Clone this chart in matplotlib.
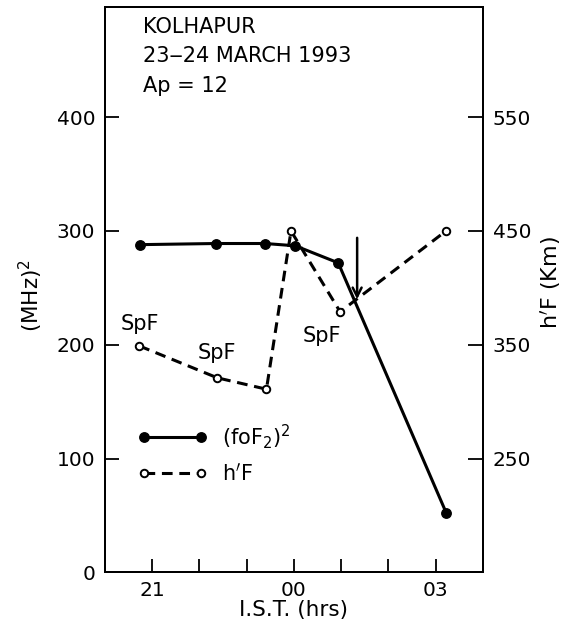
import matplotlib
matplotlib.use('Agg')
import matplotlib.pyplot as plt

# Data (time in hours after midnight of 23 March; 24 = 00 IST on 24 March)
hours_fof2 = [20.74, 22.35, 23.39, 24.03, 24.94, 27.23]
fof2_sq = [288, 289, 289, 287, 272, 52]
hours_hf = [20.73, 22.38, 23.42, 23.94, 24.98, 27.22]
hf_km = [349, 321, 311, 450, 379, 450]

x_ticks = [21, 22, 23, 24, 25, 26, 27]
x_tick_labels = ['21', '', '', '00', '', '', '03']
left_ticks = [0, 100, 200, 300, 400]
right_ticks = [250, 350, 450, 550]

spf_hours = [20.74, 22.38, 24.60]
spf_level = [218, 193, 208]
arrow_hour = 25.34
arrow_from = 294
arrow_to = 240

title_lines = ['KOLHAPUR', '23\u201224 MARCH 1993', 'Ap = 12']
title_levels = [479, 454, 427]

fs = 14.5
fig = plt.figure(figsize=(5.64, 6.30), dpi=100)
ax = fig.add_axes([0.186, 0.0913, 0.670, 0.898])
ax2 = ax.twinx()

ax.set_xlim(20, 28)
ax.set_ylim(0, 497)
ax2.set_ylim(150, 647)

l1, = ax.plot(hours_fof2, fof2_sq, color='black', lw=2.2, marker='o',
              markersize=6.8, markerfacecolor='black', zorder=4)
l2, = ax2.plot(hours_hf, hf_km, color='black', lw=2.2, linestyle=(0, (3.5, 2.2)),
               marker='o', markersize=5.4, markerfacecolor='white',
               markeredgecolor='black', markeredgewidth=1.4, zorder=3)

ax.set_xticks(x_ticks)
ax.set_xticklabels(x_tick_labels, fontsize=fs)
ax.set_yticks(left_ticks)
ax.set_yticklabels([str(v) for v in left_ticks], fontsize=fs)
ax2.set_yticks(right_ticks)
ax2.set_yticklabels([str(v) for v in right_ticks], fontsize=fs)

ax.tick_params(axis='y', direction='in', length=10, width=1.3, pad=7)
ax.tick_params(axis='x', direction='in', length=9.4, width=1.3, pad=6)
ax2.tick_params(axis='y', direction='in', length=10.5, width=1.3, pad=7)

for a in (ax, ax2):
    for s in a.spines.values():
        s.set_linewidth(1.4)

ax.set_ylabel('(MHz)$^2$', fontsize=15.5)
ax.yaxis.set_label_coords(-0.158, 0.489)
ax2.set_ylabel("h$'$F (Km)", fontsize=16)
ax2.yaxis.set_label_coords(1.148, 0.513)
ax.set_xlabel('I.S.T. (hrs)', fontsize=15.5, labelpad=0)

for h, v in zip(spf_hours, spf_level):
    ax.text(h, v, 'SpF', fontsize=15, ha='center', va='center')

ax.annotate('', xy=(arrow_hour, arrow_to), xytext=(arrow_hour, arrow_from),
            arrowprops=dict(arrowstyle='->', lw=1.8, color='black',
                            mutation_scale=16, shrinkA=0, shrinkB=0))

for t, y in zip(title_lines, title_levels):
    ax.text(20.8, y, t, fontsize=15, ha='left', va='center')

leg = ax.legend([l1, l2], ['(foF$_2$)$^2$', "h$'$F"], loc='upper left',
                bbox_to_anchor=(138 / 564, 1 - 422 / 630),
                bbox_transform=fig.transFigure, borderpad=0, borderaxespad=0,
                frameon=False, numpoints=2, handlelength=3.3,
                fontsize=15, labelspacing=0.55, handletextpad=0.75)

fig.savefig('out.png', dpi=100)
